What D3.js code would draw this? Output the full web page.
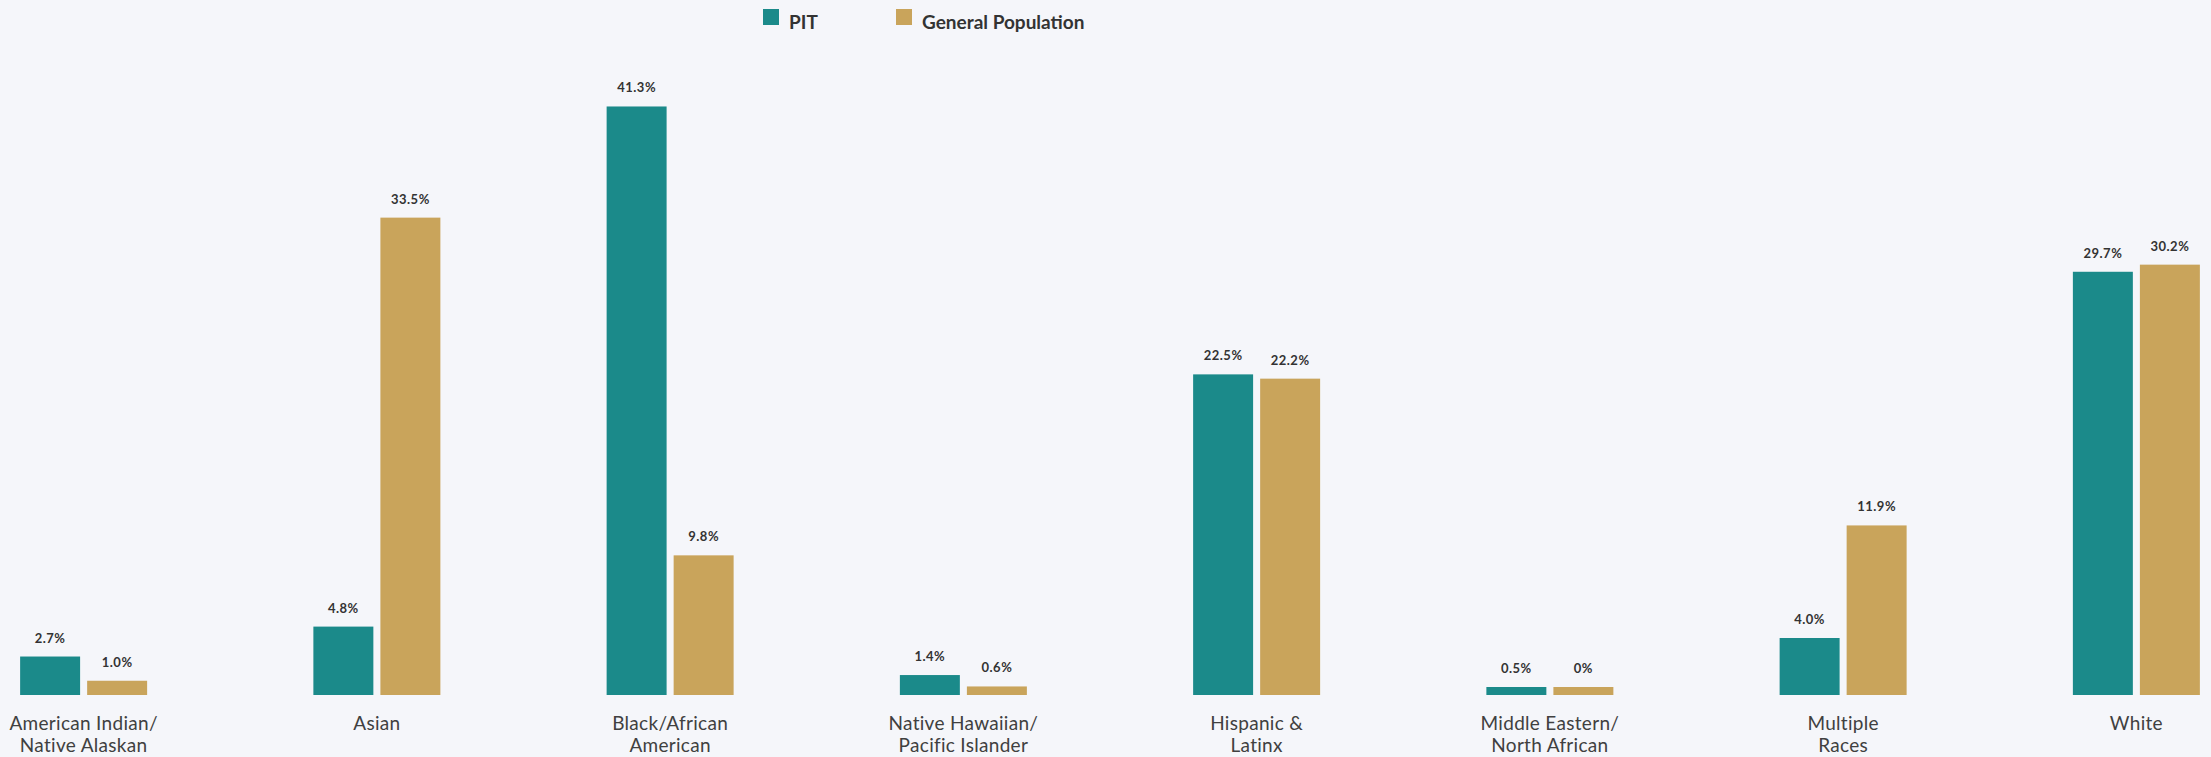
<!DOCTYPE html>
<html>
<head>
<meta charset="utf-8">
<script src="https://cdn.jsdelivr.net/npm/d3@7"></script>
<style>
  html, body { margin: 0; padding: 0; background: #f5f6fa; }
  svg { display: block; font-family: Lato, "Open Sans", sans-serif; }
</style>
</head>
<body>
<div id="chart"></div>
<script>
// 圖表尺寸
const W = 2211;
const H = 757;

// 資料
const categories = [
  ["American Indian/", "Native Alaskan"],
  ["Asian"],
  ["Black/African", "American"],
  ["Native Hawaiian/", "Pacific Islander"],
  ["Hispanic &", "Latinx"],
  ["Middle Eastern/", "North African"],
  ["Multiple", "Races"],
  ["White"]
];
const seriesNames = ["PIT", "General Population"];
const pitValues = [2.7, 4.8, 41.3, 1.4, 22.5, 0.5, 4.0, 29.7];
const genPopValues = [1.0, 33.5, 9.8, 0.6, 22.2, 0, 11.9, 30.2];
const colors = ["#1b8a8a", "#c9a45b"];

const baseY = 695;
const minBarH = 8;

const svg = d3.select("#chart").append("svg")
  .attr("width", W)
  .attr("height", H);

svg.append("rect").attr("width", W).attr("height", H).attr("fill", "#f5f6fa");

// 比例尺
const x0 = d3.scaleBand()
  .domain(d3.range(categories.length))
  .range([-63, 2283])
  .paddingInner(0)
  .paddingOuter(0);

const x1 = d3.scaleBand()
  .domain([0, 1])
  .range([x0.bandwidth() / 2 - 63.5, x0.bandwidth() / 2 + 63.5])
  .paddingInner(0.105);

const y = d3.scaleLinear()
  .domain([0, 45])
  .range([baseY, baseY - 14.25 * 45]);

const fmt = v => v === 0 ? "0%" : v.toFixed(1) + "%";

const rows = categories.map((c, i) => ({
  i,
  label: c,
  vals: [pitValues[i], genPopValues[i]]
}));

const groups = svg.selectAll(".grp")
  .data(rows)
  .join("g")
  .attr("class", "grp")
  .attr("transform", d => `translate(${x0(d.i)},0)`);

const bars = groups.selectAll(".bar")
  .data(d => d.vals.map((v, s) => ({ v, s })))
  .join("g")
  .attr("class", "bar");

bars.append("rect")
  .attr("x", d => x1(d.s))
  .attr("width", x1.bandwidth())
  .attr("y", d => Math.min(y(d.v), baseY - minBarH))
  .attr("height", d => Math.max(baseY - y(d.v), minBarH))
  .attr("fill", d => colors[d.s]);

bars.append("text")
  .attr("x", d => x1(d.s) + x1.bandwidth() / 2)
  .attr("y", d => Math.min(y(d.v), baseY - minBarH) - 14)
  .attr("text-anchor", "middle")
  .attr("font-size", 13)
  .attr("font-weight", "bold")
  .attr("letter-spacing", 0.5)
  .attr("fill", "#333")
  .text(d => fmt(d.v));

// 類別標籤
groups.append("text")
  .attr("x", x0.bandwidth() / 2)
  .attr("y", 730)
  .attr("text-anchor", "middle")
  .attr("font-size", 19)
  .attr("letter-spacing", 0.3)
  .attr("fill", "#404040")
  .selectAll("tspan")
  .data(d => d.label)
  .join("tspan")
  .attr("x", x0.bandwidth() / 2)
  .attr("dy", (d, i) => i === 0 ? 0 : 22)
  .text(d => d);

// 圖例
const legendPos = [763, 896];
const legend = svg.selectAll(".legend")
  .data(seriesNames)
  .join("g")
  .attr("class", "legend")
  .attr("transform", (d, i) => `translate(${legendPos[i]},9)`);

legend.append("rect")
  .attr("width", 16)
  .attr("height", 16)
  .attr("fill", (d, i) => colors[i]);

legend.append("text")
  .attr("x", 26)
  .attr("y", 20)
  .attr("font-size", 19)
  .attr("font-weight", "bold")
  .attr("fill", "#333")
  .text(d => d);
</script>
</body>
</html>
